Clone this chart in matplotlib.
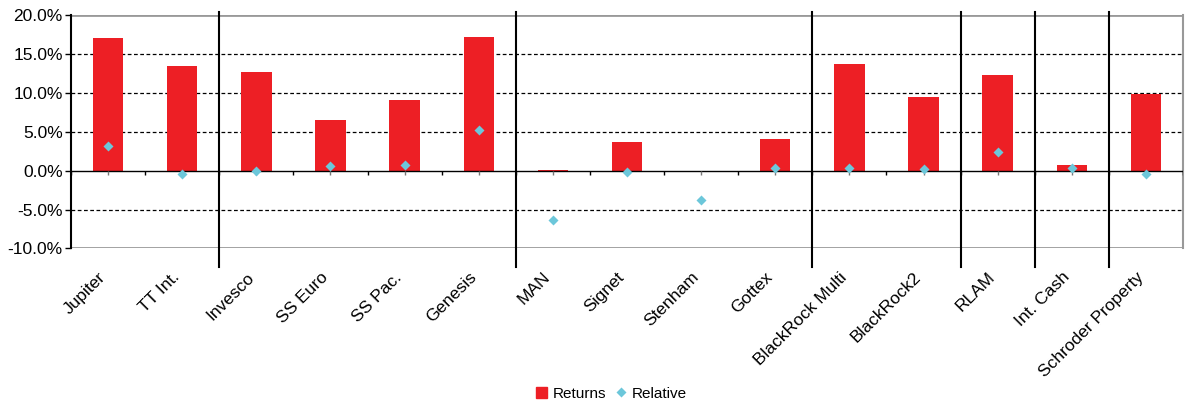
import matplotlib
matplotlib.use('Agg')
import matplotlib.pyplot as plt
import matplotlib.transforms as mtransforms
from matplotlib.ticker import FuncFormatter
from matplotlib.patches import Patch
from matplotlib.lines import Line2D
import numpy as np

plt.rcParams['font.family'] = ['Liberation Sans', 'DejaVu Sans']

funds = ['Jupiter', 'TT Int.', 'Invesco', 'SS Euro', 'SS Pac.', 'Genesis',
         'MAN', 'Signet', 'Stenham', 'Gottex', 'BlackRock Multi', 'BlackRock2',
         'RLAM', 'Int. Cash', 'Schroder Property']
returns = [17.1, 13.4, 12.7, 6.5, 9.1, 17.2,
           0.1, 3.7, 0.0, 4.1, 13.75, 9.4,
           12.3, 0.75, 9.8]
relative = [3.2, -0.4, 0.0, 0.55, 0.75, 5.2,
            -6.4, -0.2, -3.8, 0.35, 0.35, 0.2,
            2.45, 0.35, -0.4]
# group boundaries (after these fund indexes)
group_ends = [1, 5, 9, 11, 12, 13]

bar_col = '#ED1F25'
dot_col = '#6CC7DA'

x = np.arange(len(funds))

fig = plt.figure(figsize=(11.85, 4.03), dpi=100)
ax = fig.add_axes([0.0599, 0.3834, 0.9384, 0.5794])

ax.bar(x, returns, width=0.41, color=bar_col, zorder=2)
ax.plot(x, relative, 'D', color=dot_col, ms=5, mec='none', zorder=4)

ax.set_xlim(-0.5, len(funds) - 0.5)
ax.set_ylim(-10, 20)
ax.set_yticks(np.arange(-10, 21, 5))
ax.yaxis.set_major_formatter(FuncFormatter(lambda v, p: '%.1f%%' % v))

# gridlines
for v in [-5, 5, 10, 15]:
    ax.axhline(v, color='black', lw=0.9, ls=(0, (3, 2)), zorder=1)
for v in [-10, 20]:
    ax.axhline(v, color='#999999', lw=2, zorder=1)
ax.axhline(0, color='black', lw=1, zorder=3)

# small tick marks on the zero line
ax.vlines(x, -0.5, 0, color='#777777', lw=1, zorder=3)
ax.vlines(np.arange(len(funds) + 1) - 0.5, -0.5, 0, color='black', lw=1, zorder=3)

# group separators
trans = ax.get_xaxis_transform()
for g in group_ends:
    ax.plot([g + 0.5, g + 0.5], [-0.08, 1.014], color='black', lw=1.5,
            transform=trans, clip_on=False, zorder=5)

for s in ['top', 'bottom']:
    ax.spines[s].set_visible(False)
ax.spines['right'].set_color('#999999')
ax.spines['right'].set_linewidth(1.5)
ax.spines['left'].set_color('black')
ax.spines['left'].set_linewidth(1.5)

ax.tick_params(axis='y', length=4, width=1, labelsize=12.5, pad=2)
ax.set_xticks(x)
ax.set_xticklabels(funds, fontsize=12.5)
ax.tick_params(axis='x', length=0, pad=19)
shift = mtransforms.ScaledTranslation(-5 / 100, 0, fig.dpi_scale_trans)
for lab in ax.get_xticklabels():
    lab.set_rotation(45)
    lab.set_ha('right')
    lab.set_va('center')
    lab.set_rotation_mode('anchor')
    lab.set_transform(lab.get_transform() + shift)

handles = [Patch(color=bar_col),
           Line2D([], [], ls='none', marker='D', ms=5, color=dot_col, mec='none')]
fig.legend(handles, ['Returns', 'Relative'], loc='center',
           bbox_to_anchor=(0.516, 0.023), ncol=2, frameon=False,
           fontsize=11, handlelength=0.75, handleheight=0.75,
           handletextpad=0.35, columnspacing=0.6)

fig.savefig('out.png', dpi=100)
